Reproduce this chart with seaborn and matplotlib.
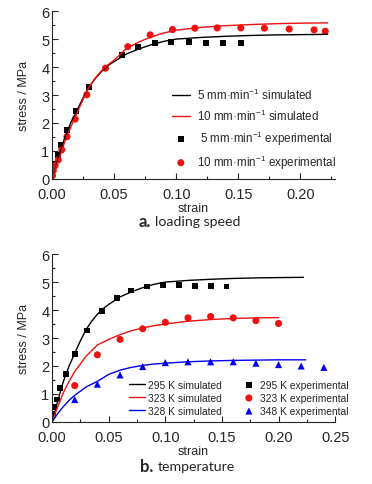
import numpy as np
import pandas as pd
import seaborn as sns
import matplotlib
matplotlib.use("Agg")
from matplotlib import pyplot as plt
from matplotlib.ticker import MultipleLocator

# ---- data ----
# (a) loading speed
sim_strain = [0, 0.005, 0.01, 0.015, 0.02, 0.025, 0.03, 0.035, 0.04, 0.045, 0.05,
              0.06, 0.07, 0.08, 0.09, 0.10, 0.12, 0.14, 0.16, 0.18, 0.20, 0.222]
sim_5mm = [0, 0.75, 1.45, 2.0, 2.45, 2.9, 3.3, 3.6, 3.85, 4.05, 4.2,
           4.47, 4.65, 4.8, 4.92, 5.0, 5.06, 5.1, 5.13, 5.15, 5.16, 5.17]
sim_10mm = [0, 0.65, 1.3, 1.85, 2.35, 2.85, 3.3, 3.62, 3.88, 4.08, 4.25,
            4.67, 4.9, 5.08, 5.22, 5.32, 5.42, 5.48, 5.52, 5.55, 5.57, 5.58]

exp5_strain = [0.0005, 0.0013, 0.0045, 0.0072, 0.012, 0.0195, 0.030, 0.056, 0.069,
               0.083, 0.096, 0.110, 0.124, 0.138, 0.152]
exp5_stress = [0.3, 0.55, 0.84, 1.2, 1.74, 2.44, 3.28, 4.44, 4.71,
               4.85, 4.9, 4.9, 4.87, 4.87, 4.85]
exp10_strain = [0.0003, 0.001, 0.0024, 0.005, 0.0078, 0.012, 0.0186, 0.028, 0.043,
                0.061, 0.079, 0.097, 0.115, 0.133, 0.152, 0.171, 0.191, 0.211, 0.220]
exp10_stress = [0.12, 0.3, 0.48, 0.68, 1.04, 1.51, 2.14, 3.01, 3.96,
                4.73, 5.15, 5.34, 5.39, 5.4, 5.4, 5.39, 5.36, 5.33, 5.28]

# (b) temperature
sim_t_strain = [0, 0.005, 0.01, 0.015, 0.02, 0.03, 0.04, 0.05, 0.06, 0.07, 0.08,
                0.09, 0.10, 0.12, 0.14, 0.16, 0.18, 0.20]
sim_323 = [0, 0.55, 1.05, 1.45, 1.8, 2.35, 2.75, 2.95, 3.12, 3.26, 3.36,
           3.44, 3.5, 3.6, 3.66, 3.7, 3.72, 3.73]
sim_328_strain = sim_t_strain + [0.224]
sim_328 = [0, 0.3, 0.55, 0.77, 0.95, 1.25, 1.45, 1.7, 1.85, 1.95, 2.02,
           2.07, 2.1, 2.15, 2.18, 2.2, 2.21, 2.22, 2.22]

exp295_strain = [0.001, 0.002, 0.004, 0.007, 0.012, 0.020, 0.031, 0.044, 0.057, 0.070,
                 0.084, 0.098, 0.112, 0.126, 0.140, 0.154]
exp295_stress = [0.3, 0.53, 0.8, 1.2, 1.72, 2.43, 3.27, 3.96, 4.42, 4.7,
                 4.84, 4.89, 4.89, 4.86, 4.86, 4.84]
exp_t_strain = [0.02, 0.04, 0.06, 0.08, 0.10, 0.12, 0.14, 0.16, 0.18, 0.20]
exp323_stress = [1.3, 2.4, 2.95, 3.33, 3.56, 3.72, 3.77, 3.72, 3.62, 3.52]
exp348_strain = [0.02, 0.04, 0.06, 0.08, 0.10, 0.12, 0.14, 0.16, 0.18, 0.20, 0.22, 0.24]
exp348_stress = [0.8, 1.35, 1.68, 1.98, 2.12, 2.15, 2.15, 2.15, 2.1, 2.05, 2.0, 1.95]

sns.set_style("ticks")
plt.rcParams['font.family'] = ['Liberation Sans', 'DejaVu Sans']
plt.rcParams['mathtext.default'] = 'regular'
plt.rcParams['xtick.direction'] = 'in'
plt.rcParams['ytick.direction'] = 'in'

RED = "#ee1111"
BLUE = "#0000ee"

fig = plt.figure(figsize=(3.72, 4.85), dpi=100)
ax1 = fig.add_axes([0.140, 0.629, 0.761, 0.346])
ax2 = fig.add_axes([0.140, 0.128, 0.761, 0.346])

unit = "mm·min$^{-1}$"

# top panel
sns.lineplot(x=sim_strain, y=sim_5mm, color="black", lw=1.0, ax=ax1,
             label="5 %s simulated" % unit)
sns.lineplot(x=sim_strain, y=sim_10mm, color=RED, lw=1.0, ax=ax1,
             label="10 %s simulated" % unit)
sns.scatterplot(x=exp5_strain, y=exp5_stress, color="black", marker="s", s=18,
                edgecolor="none", ax=ax1, label=" 5 %s experimental" % unit)
sns.scatterplot(x=exp10_strain, y=exp10_stress, color=RED, marker="o", s=26,
                edgecolor="none", ax=ax1, label="10 %s experimental" % unit)
ax1.set_xlim(0, 0.228)
ax1.xaxis.set_major_locator(MultipleLocator(0.05))
ax1.xaxis.set_minor_locator(MultipleLocator(0.025))
ax1.legend(loc="lower right", bbox_to_anchor=(1.03, 0.0), frameon=False,
           fontsize=8.4, handlelength=1.5, handletextpad=0.6, labelspacing=0.5,
           borderaxespad=0.3)

# bottom panel
sns.lineplot(x=sim_strain, y=sim_5mm, color="black", lw=1.0, ax=ax2,
             label="295 K simulated")
sns.lineplot(x=sim_t_strain, y=sim_323, color=RED, lw=1.0, ax=ax2,
             label="323 K simulated")
sns.lineplot(x=sim_328_strain, y=sim_328, color=BLUE, lw=1.0, ax=ax2,
             label="328 K simulated")
sns.scatterplot(x=exp295_strain, y=exp295_stress, color="black", marker="s", s=18,
                edgecolor="none", ax=ax2, label="295 K experimental")
sns.scatterplot(x=exp_t_strain, y=exp323_stress, color=RED, marker="o", s=26,
                edgecolor="none", ax=ax2, label="323 K experimental")
sns.scatterplot(x=exp348_strain, y=exp348_stress, color=BLUE, marker="^", s=26,
                edgecolor="none", ax=ax2, label="348 K experimental")
ax2.set_xlim(0, 0.25)
ax2.xaxis.set_major_locator(MultipleLocator(0.05))
ax2.xaxis.set_minor_locator(MultipleLocator(0.025))
ax2.legend(loc="lower right", bbox_to_anchor=(1.07, 0.0), frameon=False, ncol=2,
           fontsize=7.4, handlelength=1.6, handletextpad=0.3, labelspacing=0.3,
           columnspacing=1.8, borderaxespad=0.2)

for ax in (ax1, ax2):
    ax.set_ylim(0, 6)
    ax.yaxis.set_major_locator(MultipleLocator(1))
    ax.yaxis.set_minor_locator(MultipleLocator(0.5))
    ax.xaxis.set_major_formatter(matplotlib.ticker.FormatStrFormatter('%.2f'))
    ax.tick_params(which="major", length=4, width=0.8, labelsize=10.5)
    ax.tick_params(axis="x", which="major", pad=5.5)
    ax.tick_params(axis="y", which="major", pad=2)
    ax.tick_params(which="minor", length=2, width=0.8)
    ax.set_xlabel("strain", fontsize=9, labelpad=1)
    ax.set_ylabel("stress / MPa", fontsize=9, labelpad=8)
    sns.despine(ax=ax)

# captions
fig.text(0.405, 1 - 222 / 485, "a.", fontsize=12, fontweight="bold",
         ha="right", va="center", family="Lato")
fig.text(0.416, 1 - 222 / 485, "loading speed", fontsize=10.2,
         ha="left", va="center", family="Lato")
fig.text(0.411, 1 - 467 / 485, "b.", fontsize=12, fontweight="bold",
         ha="right", va="center", family="Lato")
fig.text(0.424, 1 - 467 / 485, "temperature", fontsize=10.2,
         ha="left", va="center", family="Lato")

fig.savefig("out.png", dpi=100)
